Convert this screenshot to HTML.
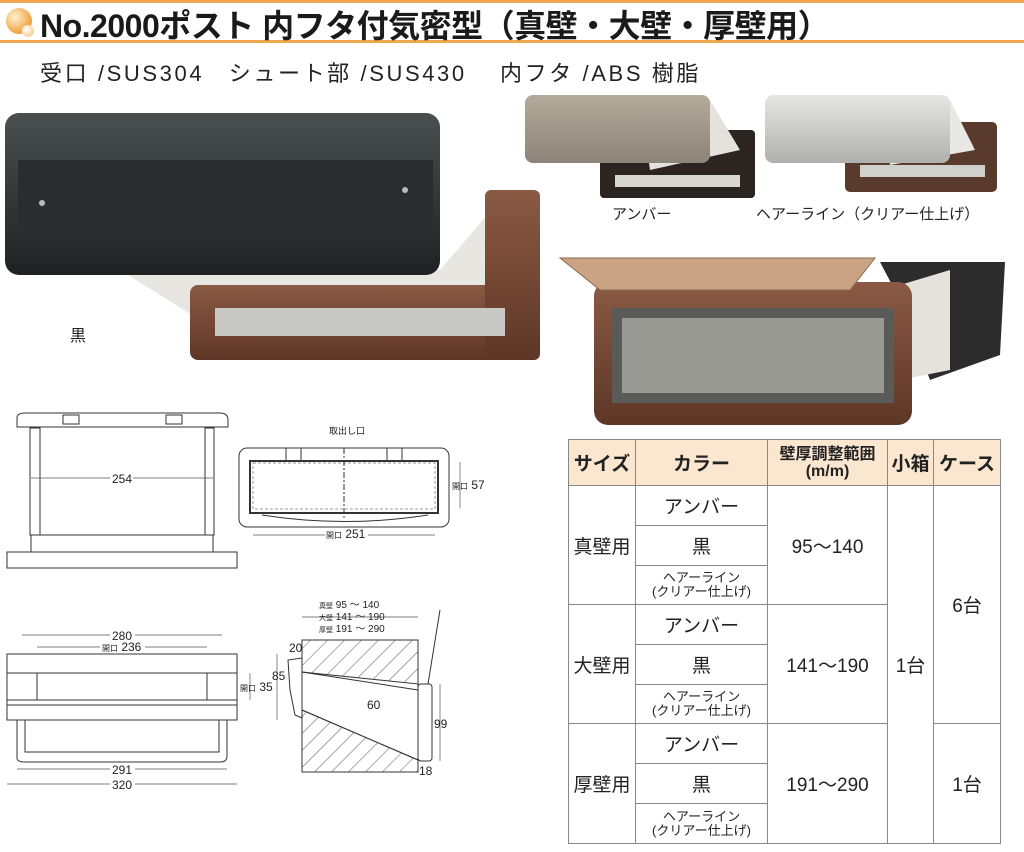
<!DOCTYPE html>
<html><head><meta charset="utf-8"><style>
body{margin:0;width:1024px;height:852px;background:#fff;overflow:hidden;font-family:"Liberation Sans","Noto Sans CJK JP",sans-serif;position:relative}
.t{position:absolute;white-space:nowrap;color:#222}
table{position:absolute;left:568px;top:439px;border-collapse:collapse;font-family:"Liberation Sans","Noto Sans CJK JP",sans-serif}
td{border:1px solid #888;text-align:center;padding:0;color:#222;font-size:19px}
th{border:1px solid #888;background:#fbe7cf;font-size:19px;font-weight:bold;color:#222;padding:0;height:45px}
.s{font-size:13px;line-height:14px}
</style></head><body>
<div style="position:absolute;left:0;top:0;width:1024px;height:3px;background:#f0a84e"></div>
<div style="position:absolute;left:0;top:40px;width:1024px;height:3px;background:#f0a84e"></div>
<div style="position:absolute;left:6px;top:8px;width:26px;height:26px;border-radius:50%;background:radial-gradient(circle at 35% 35%,#fff2d0,#f0a040 70%,#c87020)"></div>
<div style="position:absolute;left:22px;top:25px;width:12px;height:12px;border-radius:50%;background:radial-gradient(circle at 35% 35%,#fff,#f6c070)"></div>
<div class="t" style="left:40px;top:1px;font-size:32px;font-weight:bold;letter-spacing:-0.5px;color:#1a1a1a">No.2000ポスト 内フタ付気密型（真壁・大壁・厚壁用）</div>
<div class="t" style="left:40px;top:56px;font-size:22px;letter-spacing:2.6px">受口 /SUS304　シュート部 /SUS430　 内フタ /ABS 樹脂</div>

<svg style="position:absolute;left:0;top:0" width="1024" height="852">
<defs>
<linearGradient id="blk" x1="0" y1="0" x2="0" y2="1"><stop offset="0" stop-color="#4a4f4f"/><stop offset="1" stop-color="#1f2222"/></linearGradient>
<linearGradient id="brn" x1="0" y1="0" x2="0" y2="1"><stop offset="0" stop-color="#8a5a44"/><stop offset="1" stop-color="#5e3626"/></linearGradient>
<linearGradient id="amb" x1="0" y1="0" x2="0" y2="1"><stop offset="0" stop-color="#b4aa9c"/><stop offset="1" stop-color="#8c8478"/></linearGradient>
<linearGradient id="hl" x1="0" y1="0" x2="0" y2="1"><stop offset="0" stop-color="#e6e6e4"/><stop offset="1" stop-color="#b0b0ae"/></linearGradient>
<pattern id="hat" width="12" height="12" patternUnits="userSpaceOnUse" patternTransform="rotate(45)"><line x1="0" y1="0" x2="0" y2="12" stroke="#333" stroke-width="0.8"/></pattern>
</defs>
<polygon points="120,270 440,270 500,200 520,300 200,320" fill="#e8e6e0"/>
<rect x="190" y="285" width="350" height="75" rx="8" fill="url(#brn)"/>
<rect x="485" y="190" width="55" height="170" rx="6" fill="url(#brn)"/>
<rect x="215" y="308" width="290" height="28" fill="#c8c8c4"/>
<rect x="5" y="113" width="435" height="162" rx="14" fill="url(#blk)"/>
<rect x="18" y="160" width="415" height="70" fill="#2a2d2d"/>
<circle cx="42" cy="203" r="3" fill="#bbb"/><circle cx="405" cy="190" r="3" fill="#bbb"/>
<rect x="600" y="130" width="155" height="68" rx="4" fill="#2b2420"/>
<rect x="615" y="175" width="125" height="12" fill="#d8d6d0"/>
<polygon points="640,100 710,100 740,150 650,170" fill="#e4e2dc"/>
<rect x="525" y="95" width="185" height="68" rx="8" fill="url(#amb)"/>
<rect x="845" y="122" width="152" height="70" rx="5" fill="#5a3a2c"/>
<rect x="860" y="165" width="125" height="12" fill="#d0d0cc"/>
<polygon points="880,100 950,100 975,150 890,165" fill="#e8e8e6"/>
<rect x="765" y="95" width="185" height="68" rx="8" fill="url(#hl)"/>
<polygon points="880,262 1005,262 1000,355 930,380 900,300" fill="#2c2c2c"/>
<polygon points="900,285 950,270 950,370 900,380" fill="#e4e2da"/>
<rect x="594" y="282" width="318" height="143" rx="14" fill="url(#brn)"/>
<rect x="612" y="308" width="282" height="95" fill="#5a5a58"/>
<rect x="622" y="318" width="262" height="75" fill="#9a9a94"/>
<polygon points="560,258 875,258 850,290 600,290" fill="#c9a383" stroke="#8a6a50"/>
<g fill="none" stroke="#333" stroke-width="1">
<path d="M17,427 V418 Q17,413 25,413 H220 Q228,413 228,420 V427 Z"/>
<rect x="30" y="428" width="10" height="107"/><rect x="205" y="428" width="9" height="107"/>
<rect x="31" y="535" width="182" height="17"/>
<rect x="7" y="552" width="230" height="16"/>
<rect x="63" y="415" width="16" height="9"/><rect x="166" y="415" width="16" height="9"/>
<rect x="239" y="448" width="210" height="79" rx="8"/>
<rect x="250" y="461" width="188" height="52" stroke-width="2"/>
<rect x="253" y="463" width="182" height="46" stroke-dasharray="3,2" stroke="#999"/>
<line x1="344" y1="448" x2="344" y2="520" stroke-dasharray="6,2,2,2"/>
<rect x="286" y="448" width="15" height="13"/><rect x="387" y="448" width="15" height="13"/>
<path d="M262,515 Q345,528 428,515"/>
<rect x="7" y="654" width="230" height="66"/>
<line x1="7" y1="673" x2="237" y2="673"/><line x1="7" y1="700" x2="237" y2="700"/><line x1="7" y1="705" x2="237" y2="705"/>
<line x1="37" y1="673" x2="37" y2="700"/><line x1="207" y1="673" x2="207" y2="700"/>
<path d="M17,720 V758 Q17,762 25,762 H220 Q227,762 227,756 V720"/>
<path d="M25,720 V752 H219 V720"/>
<line x1="302" y1="640" x2="302" y2="772"/>
<polygon points="302,672 418,690 418,684 418,760 302,710" fill="#fff"/>
<rect x="418" y="684" width="14" height="77" rx="3"/>
<line x1="418" y1="640" x2="418" y2="684"/>
<path d="M428,684 L440,610"/>
<path d="M302,658 L288,660 L290,690 L295,715 L302,718"/>
</g>
<path d="M302,640 H418 V684 L302,672 Z M302,710 L418,760 V772 H302 Z" fill="url(#hat)" stroke="#333"/>
<g stroke="#555" stroke-width="0.7">
<line x1="31" y1="478" x2="110" y2="478"/><line x1="133" y1="478" x2="213" y2="478"/>
<line x1="253" y1="535" x2="325" y2="535"/><line x1="368" y1="535" x2="435" y2="535"/>
<line x1="460" y1="462" x2="460" y2="508"/>
<line x1="22" y1="635" x2="110" y2="635"/><line x1="135" y1="635" x2="222" y2="635"/>
<line x1="37" y1="647" x2="100" y2="647"/><line x1="145" y1="647" x2="207" y2="647"/>
<line x1="17" y1="769" x2="110" y2="769"/><line x1="135" y1="769" x2="227" y2="769"/>
<line x1="7" y1="784" x2="110" y2="784"/><line x1="135" y1="784" x2="237" y2="784"/>
<line x1="277" y1="654" x2="277" y2="720"/><line x1="250" y1="673" x2="250" y2="700"/>
<line x1="302" y1="617" x2="418" y2="617"/><line x1="440" y1="684" x2="440" y2="761"/>
</g>
<g font-family="Liberation Sans,Noto Sans CJK JP,sans-serif" fill="#222" font-size="12">
<text x="112" y="483">254</text><text x="326" y="538"><tspan font-size="8">開口</tspan> 251</text>
<text x="452" y="489"><tspan font-size="8">開口</tspan> 57</text><text x="329" y="434" font-size="9">取出し口</text>
<text x="112" y="640">280</text><text x="102" y="651"><tspan font-size="8">開口</tspan> 236</text>
<text x="112" y="774">291</text><text x="112" y="789">320</text>
<text x="272" y="680">85</text><text x="240" y="691"><tspan font-size="8">開口</tspan> 35</text>
<text x="319" y="608" font-size="10"><tspan font-size="7">真壁</tspan>  95 ～ 140</text>
<text x="319" y="620" font-size="10"><tspan font-size="7">大壁</tspan> 141 ～ 190</text>
<text x="319" y="632" font-size="10"><tspan font-size="7">厚壁</tspan> 191 ～ 290</text>
<text x="289" y="652">20</text><text x="367" y="709">60</text><text x="434" y="728">99</text><text x="419" y="775">18</text>
</g>
</svg>
<div class="t" style="left:612px;top:203px;font-size:15px">アンバー</div>
<div class="t" style="left:756px;top:203px;font-size:15px">ヘアーライン（クリアー仕上げ）</div>
<div class="t" style="left:70px;top:322px;font-size:16px">黒</div>

<table>
<tr><th style="width:66px">サイズ</th><th style="width:131px">カラー</th><th style="width:119px;font-size:16px;line-height:17px">壁厚調整範囲<br>(m/m)</th><th style="width:45px">小箱</th><th style="width:66px">ケース</th></tr>
<tr style="height:40px"><td rowspan="3">真壁用</td><td>アンバー</td><td rowspan="3">95～140</td><td rowspan="9">1台</td><td rowspan="6">6台</td></tr>
<tr style="height:40px"><td>黒</td></tr>
<tr style="height:39px"><td class="s">ヘアーライン<br>(クリアー仕上げ)</td></tr>
<tr style="height:40px"><td rowspan="3">大壁用</td><td>アンバー</td><td rowspan="3">141～190</td></tr>
<tr style="height:40px"><td>黒</td></tr>
<tr style="height:39px"><td class="s">ヘアーライン<br>(クリアー仕上げ)</td></tr>
<tr style="height:40px"><td rowspan="3">厚壁用</td><td>アンバー</td><td rowspan="3">191～290</td><td rowspan="3">1台</td></tr>
<tr style="height:40px"><td>黒</td></tr>
<tr style="height:40px"><td class="s">ヘアーライン<br>(クリアー仕上げ)</td></tr>
</table>
</body></html>
